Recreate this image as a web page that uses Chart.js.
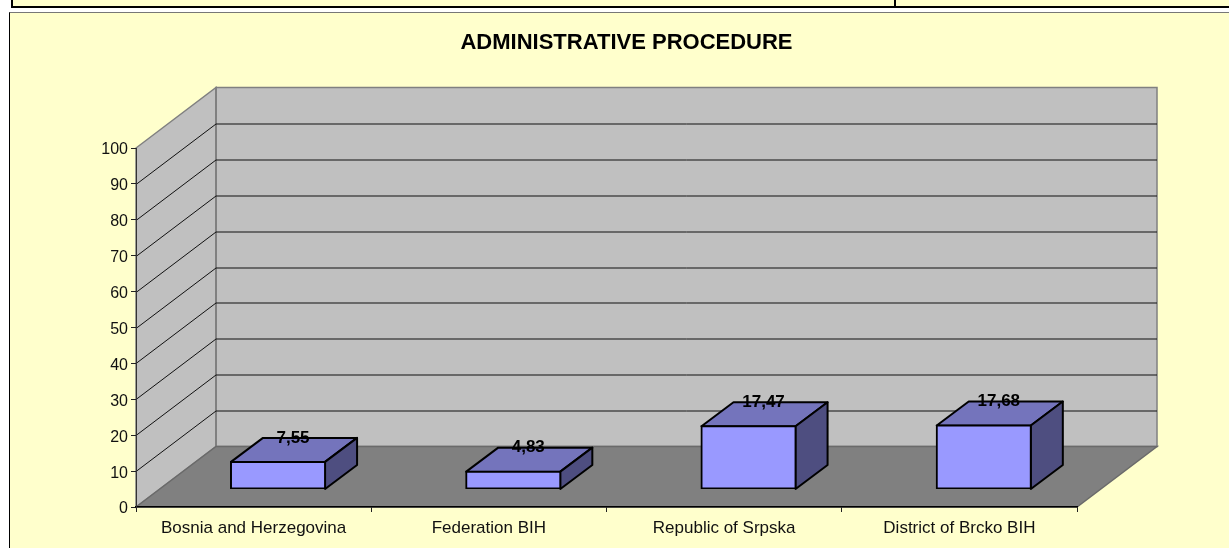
<!DOCTYPE html>
<html>
<head>
<meta charset="utf-8">
<script src="https://cdn.jsdelivr.net/npm/chart.js@4"></script>
<style>
  html, body { margin: 0; padding: 0; background: #fff; overflow: hidden; width: 1229px; height: 548px; }
  #tableBit { position: absolute; left: 11px; top: -10px; width: 1230px; height: 14px; border: 2px solid #000; background: #ffffcc; }
  #tableBit div { position: absolute; left: 881px; top: 0; height: 14px; border-left: 2px solid #000; }
  #frame { position: absolute; left: 9px; top: 12px; width: 1240px; height: 560px; border: 1px solid #000; border-top-color: #777; background: #ffffcc; }
  #wrap { position: absolute; left: 10px; top: 13px; width: 1233px; height: 535px; }
</style>
</head>
<body>
<div id="tableBit"><div></div></div>
<div id="frame"></div>
<div id="wrap"><canvas id="myChart" width="1233" height="535"></canvas></div>
<script>
const categories = ['Bosnia and Herzegovina', 'Federation BIH', 'Republic of Srpska', 'District of Brcko BIH'];
const values = [7.55, 4.83, 17.47, 17.68];
const chartTitle = 'ADMINISTRATIVE PROCEDURE';

// depth of the fake 3d box, and how far the bars sit inside the floor
const depthX = 80, depthY = 60.5;
const barShiftX = 24.4, barShiftY = -18;
const barDepthX = 32, barDepthY = 24;

const box3d = {
  id: 'box3d',
  // title has to be centred on the whole canvas, not on the padded area
  afterLayout(chart) {
    chart.titleBlock.left = 0;
    chart.titleBlock.right = chart.width;
  },
  // walls and floor go first so the axes land on top
  beforeDraw(chart) {
    const ctx = chart.ctx, x = chart.scales.x, y = chart.scales.y;
    const l = x.left, r = x.right, t = y.top, b = y.bottom;
    ctx.save();
    ctx.strokeStyle = '#808080';
    ctx.lineWidth = 1.5;
    ctx.fillStyle = '#c0c0c0';
    ctx.fillRect(l + depthX, t - depthY, r - l, b - t);
    ctx.strokeRect(l + depthX, t - depthY, r - l, b - t);
    poly(ctx, [[l, t], [l + depthX, t - depthY], [l + depthX, b - depthY], [l, b]], '#c0c0c0', '#808080');
    ctx.lineWidth = 2;
    ctx.beginPath();
    ctx.moveTo(l + depthX, t - depthY);
    ctx.lineTo(l + depthX, b - depthY);
    ctx.stroke();
    ctx.lineWidth = 1.5;
    poly(ctx, [[l, b], [l + depthX, b - depthY], [r + depthX, b - depthY], [r, b]], '#808080', '#6a6a6a');
    // grid runs along the side wall then across the back wall
    ctx.strokeStyle = '#111';
    ctx.lineWidth = 1;
    y.ticks.forEach(tick => {
      if (tick.value === 0 || tick.value === 100) return;
      const py = Math.round(y.getPixelForValue(tick.value)) + 0.5;
      ctx.beginPath();
      ctx.moveTo(l, py);
      ctx.lineTo(l + depthX, py - depthY);
      ctx.lineTo(r + depthX, py - depthY);
      ctx.stroke();
    });
    ctx.restore();
  },
  beforeDatasetDraw(chart) {
    const ctx = chart.ctx;
    const y = chart.scales.y;
    chart.getDatasetMeta(0).data.forEach(bar => {
      const x1 = bar.x - bar.width / 2 + barShiftX;
      const x2 = bar.x + bar.width / 2 + barShiftX;
      const top = bar.y + barShiftY;
      const bottom = y.getPixelForValue(0) + barShiftY;
      ctx.lineWidth = 2;
      ctx.lineJoin = 'round';
      poly(ctx, [[x1, top], [x1 + barDepthX, top - barDepthY], [x2 + barDepthX, top - barDepthY], [x2, top]], '#7474bc', '#000');
      poly(ctx, [[x2, top], [x2 + barDepthX, top - barDepthY], [x2 + barDepthX, bottom - barDepthY], [x2, bottom]], '#4e4e80', '#000');
    });
    ctx.save();
    ctx.translate(barShiftX, barShiftY);
  },
  afterDatasetDraw(chart) {
    chart.ctx.restore();
  },
  afterDatasetsDraw(chart) {
    const ctx = chart.ctx;
    ctx.save();
    ctx.fillStyle = '#000';
    ctx.font = 'bold 17px "Liberation Sans"';
    ctx.textAlign = 'center';
    ctx.textBaseline = 'middle';
    chart.getDatasetMeta(0).data.forEach((bar, i) => {
      ctx.fillText(String(values[i]).replace('.', ','), bar.x + barShiftX + barDepthX / 2 - 1, bar.y + barShiftY - barDepthY);
    });
    ctx.restore();
  }
};

function poly(ctx, pts, fill, stroke) {
  ctx.beginPath();
  pts.forEach((p, i) => i ? ctx.lineTo(p[0], p[1]) : ctx.moveTo(p[0], p[1]));
  ctx.closePath();
  ctx.fillStyle = fill;
  ctx.fill();
  ctx.strokeStyle = stroke;
  ctx.stroke();
}

new Chart(document.getElementById('myChart').getContext('2d'), {
  type: 'bar',
  data: {
    labels: categories,
    datasets: [{
      data: values,
      backgroundColor: '#9999ff',
      borderColor: '#000',
      borderWidth: 2,
      borderSkipped: false,
      inflateAmount: 1,
      barPercentage: 0.4,
      categoryPercentage: 1
    }]
  },
  options: {
    responsive: false,
    animation: false,
    layout: { padding: { left: 0, right: 166, top: 0, bottom: 0 } },
    plugins: {
      legend: { display: false },
      tooltip: { enabled: false },
      title: {
        display: true,
        text: chartTitle,
        color: '#000',
        font: { family: '"Liberation Sans"', size: 22, weight: 'bold', lineHeight: 1.2 },
        padding: { top: 16.3, bottom: 92.3 }
      }
    },
    scales: {
      x: {
        afterFit(s) { s.height = 41; },
        grid: { drawOnChartArea: false, tickLength: 5, color: '#222' },
        border: { color: '#000', width: 1.5 },
        ticks: { color: '#111', padding: 6, maxRotation: 0, font: { family: '"Liberation Sans"', size: 17 } }
      },
      y: {
        min: 0,
        max: 100,
        afterFit(s) { s.width = 126; },
        grid: { drawOnChartArea: false, tickLength: 5, color: '#222' },
        border: { color: '#333', width: 1 },
        ticks: { stepSize: 10, color: '#111', padding: 3, labelOffset: 2, font: { family: '"Liberation Sans"', size: 16 } }
      }
    }
  },
  plugins: [box3d]
});
</script>
</body>
</html>
